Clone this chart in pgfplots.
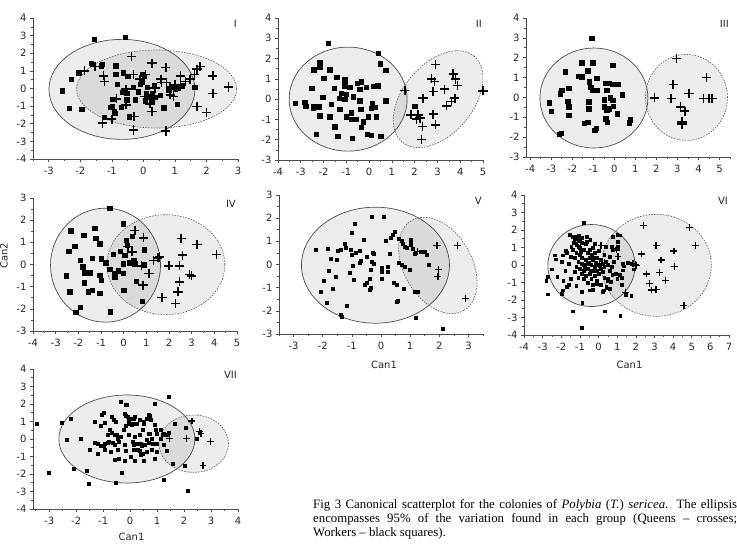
\documentclass[border=0pt]{standalone}
\usepackage{pgfplots}
\pgfplotsset{compat=1.18}
\usepackage{fontspec}
\setmainfont{Liberation Serif}
\newfontfamily\tickfont{DejaVu Sans}
\pgfplotsset{
  panel/.style={
    scale only axis, anchor=south west,
    axis x line*=bottom, axis y line*=left,
    tick align=outside, minor tick num=1,
    major tick length=3pt, minor tick length=1.8pt,
    axis line style={draw=black!70, line width=0.6pt},
    every tick/.style={draw=black!70, line width=0.6pt},
    tick label style={font=\tickfont\fontsize{10}{11}\selectfont, text=black!85},
    xticklabel style={yshift=-1.5pt},
    /pgf/number format/assume math mode=true,
    xtick distance=1, ytick distance=1,
    label style={font=\tickfont\fontsize{10}{11}\selectfont, text=black!85},
  },
  wk/.style={only marks, mark=square*, mark size=2.2pt, black, mark options={line width=0.2pt}},
  qn/.style={only marks, mark=+, mark size=4.6pt, black, mark options={line width=1.5pt}},
  wks/.style={only marks, mark=square*, mark size=1.5pt, black, mark options={line width=0.2pt}},
  qns/.style={only marks, mark=+, mark size=3.6pt, black, mark options={line width=1.35pt}},
}
\tikzset{
  we/.style={draw=black!70, line width=0.7pt, fill=black, fill opacity=0.075},
  qe/.style={draw=black!60, line width=0.65pt, dash pattern=on 1.6pt off 1.2pt, fill=black, fill opacity=0.075},
  rn/.style={anchor=north east, inner sep=0pt, font=\tickfont\fontsize{10}{11}\selectfont, text=black!85},
}
\begin{document}
\begin{tikzpicture}
\useasboundingbox (0,0) rectangle (737pt,548pt);
% ---------- I ----------
\begin{axis}[panel, at={(33pt,389pt)}, width=205pt, height=141pt,
  xmin=-3.5, xmax=3, ymin=-4, ymax=4]
\draw[we] (axis cs:-0.68,-0.05) ellipse [x radius=73pt, y radius=50pt];
\draw[qe] (axis cs:0.42,-0.03) ellipse [x radius=80pt, y radius=39pt];
\addplot[wk] coordinates {(-1.57,2.8) (-0.58,2.9) (-1.66,1.44) (-1.35,1.29) (-1.3,1.4) (-2.05,0.91) (-2.3,0.55) (-2.57,-0.13) (-2.35,-1.12) (-1.96,-1.18) (-0.88,1.29) (-0.88,0.83) (-0.64,0.91) (-0.5,0.72) (-0.05,0.83) (0.02,0.72) (-0.05,0.4) (-0.83,0.25) (-0.58,-0.08) (-0.53,-0.27) (-0.67,-0.2) (-0.98,-0.59) (-1.0,-1.02) (-0.93,-1.31) (-1.06,-1.06) (-0.71,-1.06) (-0.46,-1.59) (-1.25,-1.63) (-0.27,-0.64) (-0.53,-0.64) (0.11,0.08) (0.34,0.17) (0.27,-0.27) (0.35,-0.49) (0.27,-0.74) (0.64,-1.08) (1.06,-0.87) (0.88,0.08) (1.0,-0.04) (1.22,0.17) (1.62,0.08) (-0.32,0.08) (-0.11,0.25) (0.06,-0.68) (0.16,-0.46) (0.53,-0.36) (0.08,-0.27) (-0.16,-0.17) (0.8,-0.08) (-0.9,-1.4) (0.95,0.1) (1.1,0.05)};
\addplot[qn] coordinates {(-1.86,1.0) (-1.54,1.25) (-1.27,0.72) (-1.24,0.4) (-0.37,1.82) (0.27,1.44) (0.71,1.19) (-0.32,0.78) (0.07,0.78) (-0.11,0.53) (0.56,0.53) (1.17,0.72) (1.48,0.53) (1.62,0.78) (1.8,1.25) (1.7,1.1) (2.2,0.72) (2.7,0.08) (2.2,-0.27) (1.7,-1.02) (2.0,-1.37) (0.85,-0.36) (-0.85,-0.59) (-0.55,-0.04) (-0.55,-0.93) (-0.3,-1.59) (-0.32,-2.35) (0.71,-2.41) (-1.3,-1.97) (-1.0,-1.74) (0.27,-1.31) (0.21,-0.87) (0.05,-0.46) (0.37,0.02) (0.58,0.34) (0.74,0.34) (1.0,0.21) (1.17,0.21) (1.33,0.4) (0.95,-0.46) (0.85,0.08)};
\node[rn] at (rel axis cs:1,1) [xshift=-1pt, yshift=-2pt] {I};
\end{axis}
% ---------- II ----------
\begin{axis}[panel, at={(278pt,388pt)}, width=205pt, height=142pt,
  xmin=-4, xmax=5, ymin=-3, ymax=4]
\draw[we] (axis cs:-0.92,0.0) ellipse [x radius=59pt, y radius=52pt];
\draw[qe] (axis cs:3.03,0.0) ellipse [x radius=56pt, y radius=35pt, rotate=50];
\addplot[wk] coordinates {(-1.8,2.77) (0.4,2.27) (0.47,1.75) (0.73,1.42) (-2.17,1.83) (-2.17,1.61) (-2.43,1.45) (-1.73,1.45) (-1.99,1.04) (-1.43,1.09) (-1.07,0.96) (-0.34,0.87) (-0.53,0.79) (-0.41,0.49) (-2.53,0.54) (-1.54,0.54) (-1.07,0.66) (-0.85,0.59) (-0.12,0.59) (0.18,0.63) (0.37,0.66) (-2.05,0.1) (-1.22,0.3) (-1.0,0.26) (-1.07,0.0) (-1.32,0.05) (-0.7,0.13) (-0.41,-0.07) (-3.24,-0.2) (-2.83,-0.16) (-2.78,-0.33) (-2.43,-0.33) (-2.46,-0.44) (-2.21,-0.36) (-1.68,-0.23) (-1.29,-0.49) (-0.78,-0.66) (-0.37,-0.49) (0.13,-0.2) (0.1,-0.44) (0.25,-0.4) (0.73,-0.07) (-2.17,-0.82) (-1.73,-0.86) (-1.0,-0.86) (-0.78,-0.99) (-0.56,-0.97) (-0.04,-0.86) (0.32,-0.86) (-0.26,-1.1) (-1.51,-1.35) (-0.34,-1.38) (-2.34,-1.71) (-1.39,-1.81) (-0.75,-1.93) (-0.09,-1.71) (0.1,-1.76) (0.51,-1.81) (2.0,-0.33)};
\addplot[qn] coordinates {(1.57,0.43) (2.91,1.7) (2.74,1.0) (2.86,0.87) (2.37,0.05) (2.81,0.38) (3.32,0.49) (3.69,1.25) (3.8,0.99) (3.87,0.66) (3.76,0.05) (3.62,-0.12) (3.4,-0.33) (1.83,-0.77) (2.15,-0.77) (2.23,-0.94) (2.08,-0.99) (2.81,-0.74) (2.91,-1.27) (2.34,-1.35) (2.3,-1.98) (5.0,0.41)};
\node[rn] at (rel axis cs:1,1) [xshift=-1pt, yshift=-2pt] {II};
\end{axis}
% ---------- III ----------
\begin{axis}[panel, at={(526pt,391pt)}, width=204pt, height=139pt,
  xmin=-4.2, xmax=5.5, ymin=-3, ymax=4]
\draw[we] (axis cs:-0.97,-0.03) ellipse [x radius=54pt, y radius=50pt];
\draw[qe] (axis cs:3.43,0.0) ellipse [x radius=41pt, y radius=43pt];
\addplot[wk] coordinates {(-1.09,2.98) (-1.55,1.75) (-1.04,1.75) (-0.09,1.64) (-2.35,1.3) (-1.28,1.35) (-1.71,1.08) (-1.56,1.05) (-1.2,0.79) (-0.84,0.96) (-0.41,0.71) (-0.25,0.71) (-0.09,0.67) (0.19,0.66) (-1.12,0.51) (-1.04,0.37) (-0.84,0.37) (-2.18,0.46) (-2.51,0.37) (-2.58,0.2) (-0.36,0.37) (0.38,0.15) (-1.23,-0.22) (-0.21,0.0) (-0.09,-0.13) (-0.49,-0.1) (-3.1,-0.27) (-2.23,-0.19) (-3.02,-0.69) (-2.18,-0.47) (-1.22,-0.56) (-0.49,-0.47) (-0.25,-0.56) (-0.05,-0.44) (-0.36,-0.64) (0.14,-0.81) (-2.18,-0.89) (-0.41,-1.06) (-0.33,-1.23) (-1.44,-1.28) (-1.28,-1.23) (0.74,-1.11) (0.7,-1.26) (-0.88,-1.53) (-0.93,-1.65) (-2.54,-1.79) (-2.62,-1.85)};
\addplot[qn] coordinates {(2.95,1.97) (2.8,0.66) (1.91,-0.02) (2.7,-0.05) (3.55,0.19) (4.38,1.01) (4.25,-0.05) (4.49,-0.05) (4.64,-0.05) (3.14,-0.47) (3.35,-0.69) (3.22,-1.23) (3.22,-1.35)};
\node[rn] at (rel axis cs:1,1) [xshift=-1pt, yshift=-2pt] {III};
\end{axis}
% ---------- IV ----------
\begin{axis}[panel, at={(33pt,217pt)}, width=204pt, height=133pt,
  xmin=-4, xmax=5, ymin=-3, ymax=3]
\draw[we] (axis cs:-0.8,-0.03) ellipse [x radius=55pt, y radius=57pt];
\draw[qe] (axis cs:1.86,-0.01) ellipse [x radius=59pt, y radius=50pt];
\addplot[wk] coordinates {(-0.62,2.55) (-0.03,1.84) (-2.34,1.53) (-1.28,1.65) (-1.76,1.32) (-1.24,1.2) (-1.06,0.94) (-2.16,0.84) (-2.43,0.6) (0.12,1.09) (0.38,1.29) (0.16,0.87) (0.9,0.67) (-0.47,0.46) (0.04,0.42) (-0.15,0.6) (-1.38,0.3) (-0.99,0.27) (-0.79,0.09) (-1.91,0.19) (-0.03,0.04) (0.24,0.09) (0.44,0.19) (0.49,0.04) (0.88,0.0) (-1.82,-0.1) (-0.62,-0.21) (-0.25,-0.28) (-0.4,-0.4) (-0.03,-0.4) (-2.53,-0.51) (-1.72,-0.36) (-1.5,-0.36) (-1.06,-0.48) (-0.99,-0.7) (-0.4,-0.55) (-1.75,-0.82) (0.56,-0.75) (0.0,-1.15) (-2.38,-1.23) (-1.38,-1.15) (-1.57,-1.23) (-1.06,-1.3) (0.82,-1.65) (-1.91,-1.93) (-2.12,-2.16) (-0.59,-2.13)};
\addplot[qn] coordinates {(0.49,1.54) (0.88,1.2) (0.19,0.82) (0.37,0.57) (1.51,0.3) (1.59,0.34) (1.32,0.19) (0.78,-0.06) (1.12,-0.4) (0.85,-0.93) (1.99,-0.06) (2.47,-0.06) (2.59,0.42) (2.54,1.17) (3.24,0.91) (4.09,0.45) (2.91,-0.45) (2.99,-0.51) (2.47,-0.78) (2.4,-1.23) (2.28,-1.75) (1.69,-1.5)};
\node[rn] at (rel axis cs:1,1) [xshift=-1pt, yshift=-2pt] {IV};
\end{axis}
% ---------- V ----------
\begin{axis}[panel, at={(279pt,214pt)}, width=204pt, height=139pt,
  xmin=-3.5, xmax=3.5, ymin=-3, ymax=3,
  xlabel={Can1}, xlabel style={at={(rel axis cs:0.5,0)}, anchor=center, yshift=-31pt, xshift=3pt}]
\draw[we] (axis cs:-0.19,-0.03) ellipse [x radius=74pt, y radius=58pt];
\draw[qe] (axis cs:1.95,-0.04) ellipse [x radius=52pt, y radius=34pt, rotate=-60];
\addplot[wks] coordinates {(-2.26,0.63) (-1.83,0.67) (-1.74,0.27) (-1.81,-0.27) (-1.97,-0.7) (-2.06,-1.19) (-1.66,-1.05) (-1.86,-1.64) (-1.55,-0.52) (-1.51,0.23) (-1.49,0.59) (-1.37,0.63) (-1.26,0.92) (-1.23,0.73) (-1.03,0.63) (-1.01,0.44) (-0.88,0.53) (-0.74,0.59) (-1.0,1.39) (-0.92,1.75) (-0.61,1.09) (-0.97,-0.06) (-0.74,0.1) (-0.69,0.16) (-1.09,-0.37) (-0.94,-0.66) (-1.17,-1.78) (-1.37,-2.17) (-1.35,-2.24) (-0.48,0.32) (-0.29,0.53) (-0.25,0.46) (-0.31,0.13) (-0.25,0.06) (-0.37,-0.2) (-0.4,-0.59) (-0.48,-0.8) (-0.57,-0.85) (-0.4,-1.09) (-0.34,-0.99) (-0.31,2.07) (0.08,2.07) (0.02,-0.13) (0.02,-0.3) (0.02,-0.59) (0.21,-0.09) (0.21,-0.3) (0.17,1.02) (0.29,0.49) (0.34,1.18) (0.4,1.28) (0.46,1.42) (0.6,1.13) (0.69,1.02) (0.74,0.92) (0.8,0.77) (0.89,0.73) (1.01,1.02) (1.03,1.09) (1.01,0.85) (1.07,0.7) (1.17,0.49) (1.35,0.56) (1.49,0.56) (1.58,0.42) (1.63,0.01) (0.6,0.1) (0.69,0.01) (0.8,-0.09) (0.97,-0.23) (0.44,-0.8) (0.55,-0.85) (0.78,-1.05) (0.52,-1.59) (0.57,-1.56) (1.17,-1.19) (1.24,-1.16) (1.2,-2.28) (2.12,-2.77)};
\addplot[qns] coordinates {(1.26,0.56) (1.92,0.82) (2.63,0.82) (1.97,-0.23) (1.95,-0.52) (2.9,-1.48)};
\node[rn] at (rel axis cs:1,1) [xshift=-1pt, yshift=-2pt] {V};
\end{axis}
% ---------- VI ----------
\begin{axis}[panel, at={(524pt,213pt)}, width=205pt, height=140pt,
  xmin=-4, xmax=7, ymin=-4, ymax=4,
  xlabel={Can1}, xlabel style={at={(rel axis cs:0.5,0)}, anchor=center, yshift=-30pt, xshift=3pt}]
\draw[we] (axis cs:-0.38,-0.03) ellipse [x radius=43.6pt, y radius=41pt];
\draw[qe] (axis cs:3.1,-0.02) ellipse [x radius=55pt, y radius=51pt];
\addplot[wks, mark size=1.4pt] coordinates {(-0.8,2.42) (-1.56,1.75) (-1.41,1.62) (-1.16,1.62) (-1.02,1.47) (-0.93,1.56) (-0.66,1.62) (-0.66,1.33) (-1.32,1.3) (-1.16,1.14) (-1.06,1.05) (-1.47,1.05) (-1.77,0.8) (-1.91,0.57) (-2.36,0.57) (-2.31,0.34) (-2.54,-0.23) (-2.72,-0.67) (-2.22,-0.67) (-2.81,-0.91) (-2.72,-1.66) (-2.0,-1.62) (-1.91,-1.43) (-1.7,-1.24) (-1.59,-1.14) (-1.38,-2.63) (-0.88,-2.13) (-0.93,-3.56) (0.32,-2.63) (1.16,-2.91) (1.22,-1.14) (1.45,-1.68) (1.75,-1.75) (0.77,1.62) (1.0,1.75) (1.16,1.71) (1.04,1.33) (1.04,1.05) (0.95,0.95) (0.68,1.05) (0.77,0.86) (0.38,1.05) (1.27,0.1) (1.34,-0.06) (1.31,-0.29) (1.57,0.15) (1.75,0.1) (1.88,-0.23) (1.13,-0.57) (1.22,-0.72) (0.73,-0.57) (0.5,-0.76) (0.63,-0.95) (0.41,-1.24) (0.29,-1.43) (0.59,-1.33) (-0.09,-1.05) (-0.3,-1.14) (-0.48,-1.43)
 (-1.3,1.5) (-1.1,1.4) (-0.9,1.3) (-1.2,1.2) (-0.7,1.2) (-1.0,1.0) (-0.8,0.9) (-1.4,0.9) (-0.5,0.9) (-0.3,1.0) (-1.2,0.7) (-1.0,0.6) (-0.6,0.7) (-0.4,0.6) (-0.2,0.7) (0.0,0.8) (-1.5,0.5) (-1.3,0.4) (-0.9,0.4) (-0.7,0.3) (-0.5,0.4) (-0.3,0.3) (-0.1,0.4) (0.1,0.3) (-1.1,0.2) (-0.9,0.1) (-0.8,0.0) (-0.6,0.1) (-0.4,0.0) (-0.2,-0.1) (0.0,0.0) (0.2,0.1) (0.4,0.2) (-1.2,-0.1) (-1.0,-0.2) (-0.8,-0.3) (-0.6,-0.2) (-0.3,-0.3) (-0.1,-0.3) (0.1,-0.2) (0.3,-0.1) (0.5,0.0) (-1.3,-0.4) (-0.9,-0.5) (-0.7,-0.6) (-0.5,-0.5) (-0.2,-0.6) (0.0,-0.5) (0.2,-0.4) (0.6,-0.3) (-1.1,-0.7) (-0.8,-0.8) (-0.4,-0.8) (-0.1,-0.9) (0.3,-0.7) (-0.6,-1.0) (0.1,-1.1) (0.5,-0.9) (-1.6,0.1) (-1.8,-0.3) (-2.0,0.2) (-1.7,0.7) (-0.95,0.75) (-0.55,0.15) (-0.25,0.45) (0.05,-0.05) (-0.45,-0.35) (-0.15,0.15) (-0.75,-0.15) (-1.05,1.7) (-0.45,1.45) (-0.2,1.2) (0.3,0.6) (0.6,0.5) (0.8,0.2) (0.7,-0.1) (0.9,-0.5) (1.0,-0.8) (-1.9,-0.9) (-1.5,-0.8) (-1.2,-1.2) (-0.9,-1.5) (-0.3,-1.4) (0.2,-1.5) (0.4,-1.3)};
\addplot[qns, mark size=3.4pt] coordinates {(2.42,2.25) (4.88,2.15) (5.21,1.1) (3.09,1.1) (4.04,0.8) (2.29,0.63) (3.36,0.29) (4.08,-0.1) (3.27,-0.42) (2.56,-0.51) (3.6,-0.9) (2.74,-1.05) (3.09,-1.39) (2.83,-1.43) (4.58,-2.32) (1.45,-1.56) (1.97,0.04) (1.84,0.1) (2.02,-0.04) (1.04,0.48) (0.14,1.1) (0.98,0.86) (-0.3,0.38) (0.32,0.15) (0.04,0.04) (-0.28,-0.29)};
\node[rn] at (rel axis cs:1,1) [xshift=-1pt, yshift=-2pt] {VI};
\end{axis}
% ---------- VII ----------
\begin{axis}[panel, at={(33pt,39pt)}, width=205pt, height=140pt,
  xmin=-3.6, xmax=4, ymin=-4, ymax=4,
  xlabel={Can1}, xlabel style={at={(rel axis cs:0.5,0)}, anchor=center, yshift=-28pt, xshift=-4pt}]
\draw[we] (axis cs:-0.12,0.0) ellipse [x radius=68pt, y radius=44pt];
\draw[qe] (axis cs:2.36,-0.27) ellipse [x radius=34.7pt, y radius=28.7pt];
\addplot[wks] coordinates {(-0.37,2.13) (-0.16,1.95) (0.9,2.04) (1.42,2.44) (-1.05,1.37) (-0.99,1.5) (-0.68,1.28) (-0.62,1.12) (-0.52,0.99) (-0.16,1.31) (-0.09,1.28) (-0.04,1.12) (0.18,1.28) (0.37,1.09) (0.71,1.31) (0.77,1.12) (0.08,0.86) (-0.04,0.86) (-0.16,0.74) (-0.25,0.51) (0.24,0.86) (0.49,0.89) (0.45,0.51) (-0.93,0.93) (-1.08,0.74) (-0.75,0.51) (-0.68,0.36) (-0.59,0.23) (-0.83,0.23) (-0.37,0.13) (-0.06,0.23) (0.18,0.13) (0.37,0.23) (0.68,0.32) (0.8,0.04) (-1.33,-0.21) (-1.2,-0.29) (-0.99,-0.4) (-0.93,-0.25) (-0.81,-0.15) (-0.66,-0.21) (-0.56,-0.34) (-0.44,-0.15) (-0.2,-0.34) (0.08,-0.15) (0.24,-0.29) (0.4,-0.25) (0.53,-0.34) (0.67,-0.21) (0.82,-0.25) (-1.51,-0.63) (-1.2,-0.82) (-0.93,-0.59) (-0.71,-0.72) (-0.46,-0.63) (-0.16,-0.67) (0.12,-0.59) (0.37,-0.67) (0.45,-0.82) (0.61,-0.72) (0.8,-0.63) (-0.56,-1.2) (-0.41,-1.1) (-0.2,-1.24) (0.03,-1.01) (0.15,-1.24) (0.49,-1.24) (0.9,-1.1) (-1.61,-1.8) (-0.31,-1.92) (-2.11,-1.68) (-2.35,-0.06) (-1.82,0.04) (-1.33,0.99) (0.92,0.8) (1.14,0.04) (0.99,-0.25) (1.14,0.55) (1.26,0.32)
 (-3.48,0.9) (-3.01,-1.92) (-2.55,0.95) (-2.21,1.18) (-1.55,-2.53) (-0.54,-2.5) (1.25,-2.3) (1.58,-1.39) (1.66,0.9) (2.05,0.65) (2.02,-1.52) (2.45,0.04) (2.58,0.38) (2.15,-2.97) (1.41,0.38) (1.34,-0.69) (1.37,0.23) (-1.1,-0.38) (-0.85,-0.19) (-0.51,0.27) (-0.48,0.04) (0.14,-0.34) (0.26,-0.63) (0.44,-0.38) (0.38,-0.91) (0.51,-1.26) (0.51,0.99) (0.63,1.18) (0.69,1.37) (0.73,0.32) (0.63,-0.06) (0.94,0.51) (1.0,0.32) (1.0,-0.72) (1.25,-0.3) (1.12,0.04) (1.22,0.27) (-0.14,1.94) (-0.21,1.47) (0.01,1.18) (0.14,1.18) (0.05,0.8) (0.11,0.9)};
\addplot[qns, mark size=3.4pt] coordinates {(1.47,0.04) (2.08,0.04) (2.29,1.03) (2.58,0.42) (2.63,0.32) (2.99,-0.15) (2.7,-1.52)};
\node[rn] at (rel axis cs:1,1) [xshift=-1pt, yshift=-2pt] {VII};
\end{axis}
% axis title Can2
\node[rotate=90, font=\tickfont\fontsize{10}{11}\selectfont, text=black!85] at (4pt,292pt) {Can2};
% caption
\node[anchor=base west, inner sep=0pt, font=\fontsize{12.8}{14}\selectfont] at (313pt,39pt) {\makebox[424pt][s]{Fig 3 Canonical scatterplot for the colonies of \textit{Polybia} (\textit{T.}) \textit{sericea}. The ellipsis}};
\node[anchor=base west, inner sep=0pt, font=\fontsize{12.8}{14}\selectfont] at (313pt,25pt) {\makebox[424pt][s]{encompasses 95\% of the variation found in each group (Queens -- crosses;}};
\node[anchor=base west, inner sep=0pt, font=\fontsize{12.8}{14}\selectfont] at (313pt,11pt) {Workers -- black squares).};
\end{tikzpicture}
\end{document}
